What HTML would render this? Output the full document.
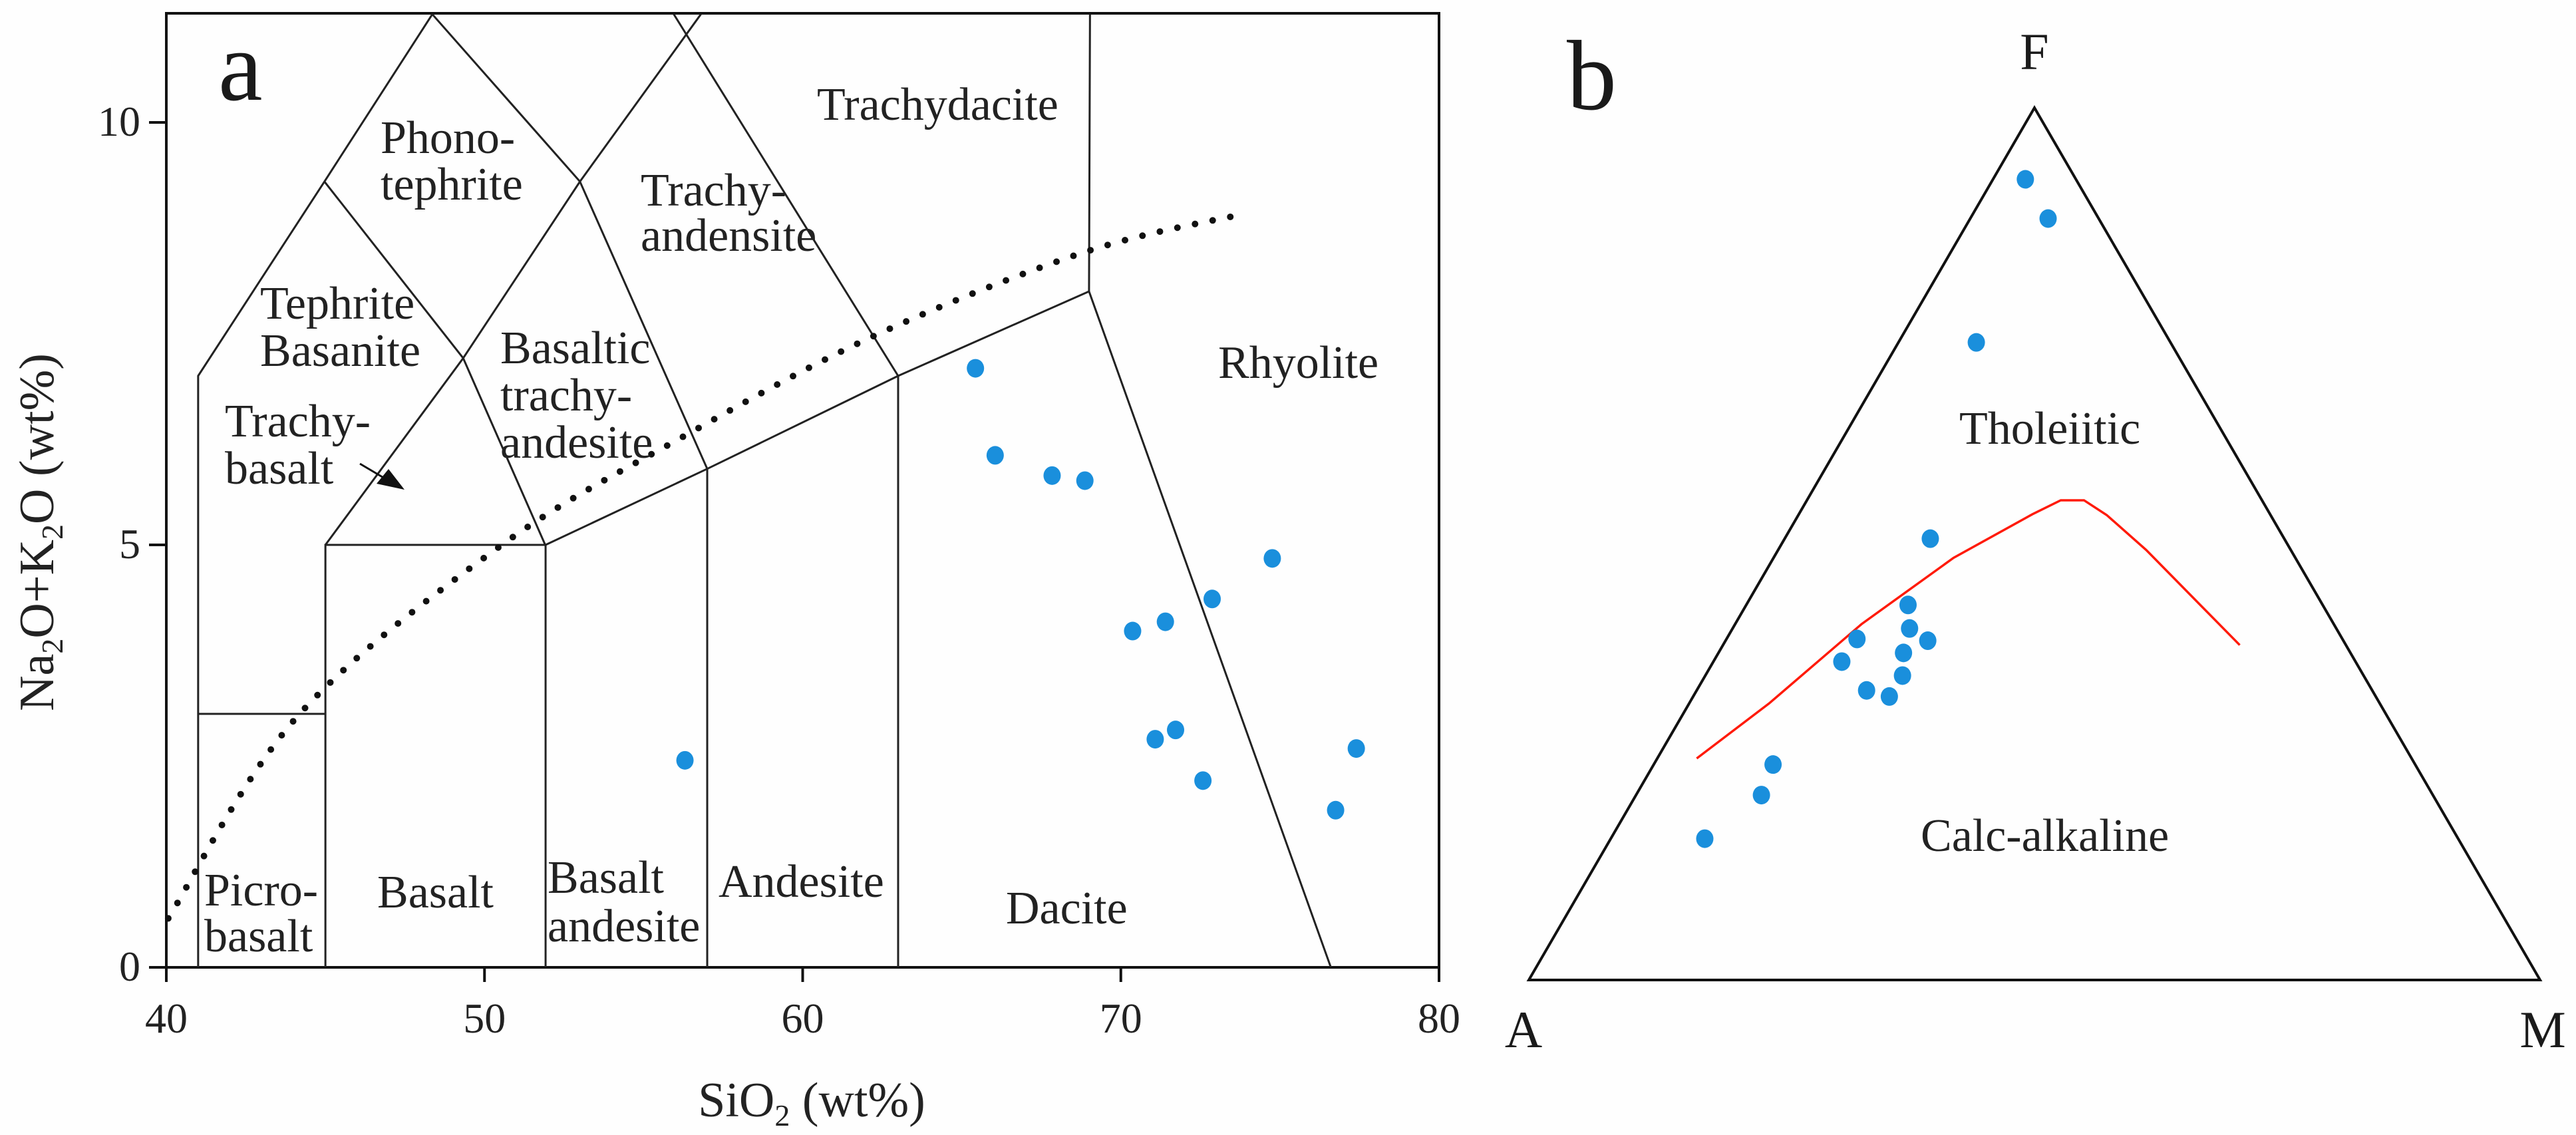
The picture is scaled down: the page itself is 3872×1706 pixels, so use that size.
<!DOCTYPE html>
<html><head><meta charset="utf-8"><style>
html,body{margin:0;padding:0;background:#fefefe;}
svg{display:block;}
text{font-family:"Liberation Serif",serif;}
</style></head><body>
<svg id="fig" width="3872" height="1706" viewBox="0 0 3872 1706" xmlns="http://www.w3.org/2000/svg" font-family="Liberation Serif, serif">
<rect x="0" y="0" width="3872" height="1706" fill="#fefefe"/>
<g id="tas"></g>
<g id="afm"></g>
</svg>
<script>
// ---- TAS data ----
const tasSiO2 = [65.43,66.05,67.84,68.87,74.76,72.87,70.37,71.40,71.72,71.08,72.58,77.40,76.75,56.30];
const tasAlk  = [7.09,6.06,5.82,5.76,4.84,4.36,3.98,4.09,2.81,2.70,2.21,2.59,1.86,2.45];
const xTicks = [40,50,60,70,80];
const yTicks = [0,5,10];
const curveSiO2 = [40.06,44.12,50.51,56.24,62.28,68.90,73.90];
const curveAlk  = [0.58,2.97,4.99,6.28,7.48,8.47,8.92];
// ---- AFM data (fractions F, M) ----
const afmF = [0.918,0.873,0.731,0.506,0.430,0.403,0.391,0.389,0.375,0.365,0.349,0.332,0.325,0.247,0.212,0.162];
const afmM = [0.032,0.077,0.077,0.144,0.160,0.175,0.129,0.200,0.183,0.127,0.195,0.168,0.194,0.118,0.124,0.093];
const divF = [0.254,0.317,0.408,0.484,0.534,0.550,0.550,0.533,0.493,0.384];
const divM = [0.039,0.079,0.125,0.178,0.231,0.251,0.274,0.305,0.364,0.511];

const NS="http://www.w3.org/2000/svg";
function mk(tag,attrs,parent){const e=document.createElementNS(NS,tag);for(const k in attrs)e.setAttribute(k,attrs[k]);if(tag==='text')e.setAttribute('font-family','Liberation Serif, serif');parent.appendChild(e);return e;}

// TAS axes
const X0=250,X1=2163,Y0=1454,YT=20;
const sx=v=>X0+(v-40)*(X1-X0)/40;
const sy=v=>Y0-v*127;
const tas=document.getElementById('tas');
const frame=mk('rect',{x:X0,y:YT,width:X1-X0,height:Y0-YT,fill:'none',stroke:'#111','stroke-width':4},tas);


xTicks.forEach(t=>{
  const l=mk('line',{x1:sx(t),x2:sx(t),y1:Y0,y2:Y0+22,stroke:'#111','stroke-width':4},tas);
  
  
  const tx=mk('text',{x:sx(t),y:1552,'font-size':64,'text-anchor':'middle',fill:'#222'},tas);
  tx.textContent=t;
  
  
});
yTicks.forEach(t=>{
  const l=mk('line',{x1:X0-26,x2:X0,y1:sy(t),y2:sy(t),stroke:'#111','stroke-width':4},tas);
  
  
  const tx=mk('text',{x:211,y:sy(t)+20,'font-size':64,'text-anchor':'end',fill:'#222'},tas);
  tx.textContent=t;
  
  
});
const segs=[
 [[41,0],[41,7],[44.97,9.3],[48.36,11.28]],
 [[44.97,9.3],[49.33,7.21],[51.92,4.99]],
 [[41,3],[45,3]],
 [[45,0],[45,5],[51.92,5],[51.92,0]],
 [[45,5],[49.33,7.21],[53,9.3],[56.8,11.28]],
 [[48.36,11.28],[53,9.3],[57,5.9],[57,0]],
 [[51.92,5],[57,5.9],[63,7],[69,8]],
 [[63,0],[63,7],[55.95,11.28]],
 [[69.03,11.28],[69,8],[76.6,0]]
];
segs.forEach(s=>{
  const p=mk('polyline',{points:s.map(q=>sx(q[0])+','+sy(q[1])).join(' '),fill:'none',stroke:'#222','stroke-width':3},tas);
  
  
});
(function(){
  const P=curveSiO2.map((v,i)=>[sx(v),sy(curveAlk[i])]);
  let d='M'+P[0][0]+','+P[0][1];
  for(let i=0;i<P.length-1;i++){
    const p0=P[Math.max(0,i-1)],p1=P[i],p2=P[i+1],p3=P[Math.min(P.length-1,i+2)];
    const c1=[p1[0]+(p2[0]-p0[0])/6,p1[1]+(p2[1]-p0[1])/6];
    const c2=[p2[0]-(p3[0]-p1[0])/6,p2[1]-(p3[1]-p1[1])/6];
    d+=' C'+c1+' '+c2+' '+p2;
  }
  const c=mk('path',{d:d,fill:'none',stroke:'#111','stroke-width':10,'stroke-linecap':'round','stroke-dasharray':'0 27'},tas);
  
  
})();
const ar=mk('line',{x1:541,y1:697,x2:590,y2:726,stroke:'#111','stroke-width':3},tas);


const ah=mk('polygon',{points:'608,736 566,727 584,705',fill:'#111'},tas);


tasSiO2.forEach((v,i)=>{
  const c=mk('ellipse',{cx:sx(v),cy:sy(tasAlk[i]),rx:13,ry:14,fill:'#1a8fdc'},tas);
  
  
});
const labs=[
 ['Trachydacite',1228,180],['Phono-',572,230],['tephrite',572,300],['Trachy-',963,309],['andensite',963,377],
 ['Tephrite',391,479],['Basanite',391,550],['Basaltic',752,546],['trachy-',752,617],['andesite',752,688],
 ['Trachy-',338,656],['basalt',338,727],['Rhyolite',1831,568],['Picro-',307,1361],['basalt',307,1430],
 ['Basalt',567,1364],['Basalt',823,1342],['andesite',823,1415],['Andesite',1080,1348],['Dacite',1512,1388]
];
labs.forEach(l=>{
  const t=mk('text',{x:l[1],y:l[2],'font-size':70,fill:'#222'},tas);
  t.textContent=l[0];
  
  
});

const fig=document.getElementById('fig');
function txt(s,attrs,name){const t=mk('text',attrs,fig);t.textContent=s;return t;}
txt('a',{x:328,y:150,'font-size':150,fill:'#1a1a1a'},'panel-label-a');
txt('b',{x:2355,y:164,'font-size':150,fill:'#1a1a1a'},'panel-label-b');
const xt=txt('',{x:1220,y:1678,'font-size':74,'text-anchor':'middle',fill:'#222'},'x-axis-title');
xt.innerHTML='SiO<tspan font-size="46" dy="14">2</tspan><tspan dy="-14"> (wt%)</tspan>';
const yt=txt('',{x:0,y:0,'font-size':74,'text-anchor':'middle',fill:'#222',transform:'translate(80,800) rotate(-90)'},'y-axis-title');
yt.innerHTML='Na<tspan font-size="46" dy="14">2</tspan><tspan dy="-14">O+K</tspan><tspan font-size="46" dy="14">2</tspan><tspan dy="-14">O (wt%)</tspan>';

const afm=document.getElementById('afm');
const Ax=2298,Ay=1473,W=1520,H=1311;
const tx=(f,m)=>Ax+(m+f/2)*W;
const ty=(f)=>Ay-f*H;
const tri=mk('polygon',{points:`${Ax},${Ay} ${Ax+W},${Ay} ${Ax+W/2},${Ay-H}`,fill:'none',stroke:'#111','stroke-width':4},afm);


const dv=mk('polyline',{points:divF.map((f,i)=>tx(f,divM[i])+','+ty(f)).join(' '),fill:'none',stroke:'#ff1a0a','stroke-width':3.5},afm);


afmF.forEach((f,i)=>{
  const c=mk('ellipse',{cx:tx(f,afmM[i]),cy:ty(f),rx:13,ry:14,fill:'#1a8fdc'},afm);
  
  
});
txt('F',{x:3058,y:104,'font-size':78,'text-anchor':'middle',fill:'#1a1a1a'},'vertex-label-f');
txt('A',{x:2290,y:1574,'font-size':78,'text-anchor':'middle',fill:'#1a1a1a'},'vertex-label-a');
txt('M',{x:3822,y:1574,'font-size':78,'text-anchor':'middle',fill:'#1a1a1a'},'vertex-label-m');
txt('Tholeiitic',{x:2945,y:667,'font-size':70,fill:'#222'},'tholeiitic-label');
txt('Calc-alkaline',{x:2887,y:1279,'font-size':70,fill:'#222'},'calc-alkaline-label');
</script>
</body></html>
